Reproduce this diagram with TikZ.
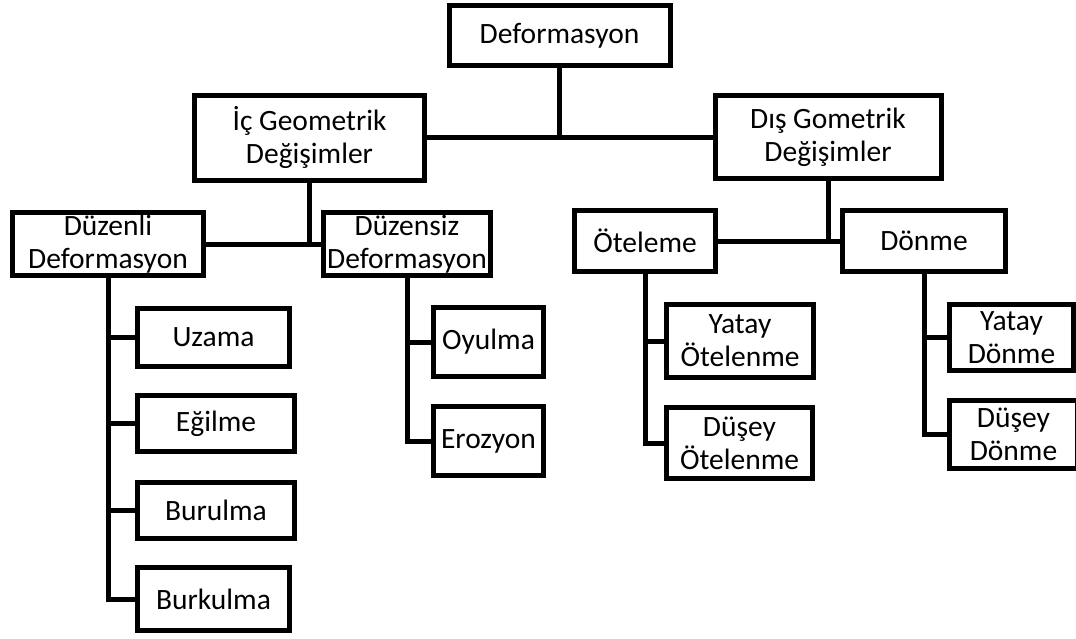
\documentclass[tikz,border=0pt]{standalone}
\usepackage{fontspec}
\setmainfont{Carlito}
\usetikzlibrary{positioning}
\tikzset{
box/.style={draw,line width=5pt,align=center,inner sep=0pt,
  font=\fontsize{29.5}{33}\selectfont},
link/.style={line width=5pt},
}
\begin{document}
\begin{tikzpicture}[x=1pt,y=-1pt]
  \useasboundingbox (0,0) rectangle (1076,639);
  % top
  \node[box,minimum width=221pt,minimum height=60pt] (def) at (559.5,35.5) {Deformasyon};
  \node[box,minimum width=230pt,minimum height=85pt] (ic) at (309.5,138) {İç Geometrik\\Değişimler};
  \node[box,minimum width=226pt,minimum height=83pt] (dis) at (828,137) {Dış Gometrik\\Değişimler};
  % second row
  \node[box,minimum width=191pt,minimum height=63pt] (duzenli) at (108,244) {Düzenli\\Deformasyon};
  \node[box,minimum width=167pt,minimum height=62pt] (duzensiz) at (407,244) {Düzensiz\\Deformasyon};
  \node[box,minimum width=141pt,minimum height=61pt] (oteleme) at (645,241) {Öteleme};
  \node[box,minimum width=163pt,minimum height=61pt] (donme) at (924,241) {Dönme};
  % leaves
  \node[box,minimum width=152pt,minimum height=58pt] (uzama) at (213.5,337.5) {Uzama};
  \node[box,minimum width=157pt,minimum height=56pt] (egilme) at (216,423.5) {Eğilme};
  \node[box,minimum width=157pt,minimum height=56pt] (burulma) at (216,510.5) {Burulma};
  \node[box,minimum width=152pt,minimum height=63pt] (burkulma) at (213.5,599) {Burkulma};
  \node[box,minimum width=110pt,minimum height=69pt] (oyulma) at (488.5,342) {Oyulma};
  \node[box,minimum width=110pt,minimum height=69pt] (erozyon) at (488.5,441) {Erozyon};
  \node[box,minimum width=147pt,minimum height=73pt] (yatayot) at (740,341) {Yatay\\Ötelenme};
  \node[box,minimum width=146pt,minimum height=71pt] (duseyot) at (739.5,443) {Düşey\\Ötelenme};
  \node[box,minimum width=124pt,minimum height=66pt] (yataydon) at (1011.5,337.5) {Yatay\\Dönme};
  \node[box,minimum width=128pt,minimum height=68pt] (duseydon) at (1013.5,434.5) {Düşey\\Dönme};
  % links
  \draw[link] (def.south) -- (def.south |- ic.east);
  \draw[link] (ic.east) -- (ic.east -| dis.west);
  \draw[link] (ic.south) -- (ic.south |- duzenli.east);
  \draw[link] (duzenli.east) -- (duzenli.east -| duzensiz.west);
  \draw[link] (dis.south) -- (dis.south |- oteleme.east);
  \draw[link] (oteleme.east) -- (donme.west);
  \draw[link] (duzenli.south) |- (burkulma.west);
  \draw[link] (duzenli.south |- uzama.west) -- (uzama.west);
  \draw[link] (duzenli.south |- egilme.west) -- (egilme.west);
  \draw[link] (duzenli.south |- burulma.west) -- (burulma.west);
  \draw[link] (duzensiz.south) |- (erozyon.west);
  \draw[link] (duzensiz.south |- oyulma.west) -- (oyulma.west);
  \draw[link] (oteleme.south) |- (duseyot.west);
  \draw[link] (oteleme.south |- yatayot.west) -- (yatayot.west);
  \draw[link] (donme.south) |- (duseydon.west);
  \draw[link] (donme.south |- yataydon.west) -- (yataydon.west);
\end{tikzpicture}
\end{document}
